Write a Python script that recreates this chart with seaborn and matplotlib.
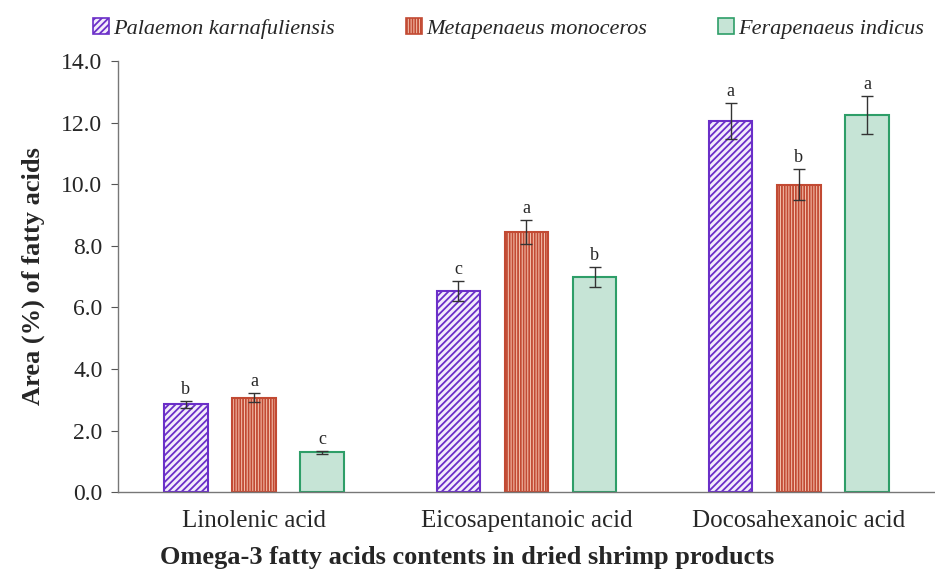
import numpy as np
import pandas as pd
import matplotlib
matplotlib.use("Agg")
import matplotlib.pyplot as plt
import seaborn as sns
from matplotlib.patches import Patch

acids = ["Linolenic acid", "Eicosapentanoic acid", "Docosahexanoic acid"]
species = ["Palaemon karnafuliensis", "Metapenaeus monoceros", "Ferapenaeus indicus"]

# mean area (%) per species, in acid order
palaemon = [2.85, 6.53, 12.05]
metapenaeus = [3.07, 8.45, 9.98]
ferapenaeus = [1.29, 6.99, 12.25]

palaemon_err = [0.12, 0.32, 0.59]
metapenaeus_err = [0.15, 0.40, 0.50]
ferapenaeus_err = [0.05, 0.32, 0.62]

palaemon_sig = ["b", "c", "a"]
metapenaeus_sig = ["a", "a", "b"]
ferapenaeus_sig = ["c", "b", "a"]

means = [palaemon, metapenaeus, ferapenaeus]
errs = [palaemon_err, metapenaeus_err, ferapenaeus_err]
sigs = [palaemon_sig, metapenaeus_sig, ferapenaeus_sig]

rows = []
for sp, vals in zip(species, means):
    for acid, v in zip(acids, vals):
        rows.append({"Acid": acid, "Species": sp, "Area": v})
df = pd.DataFrame(rows)

edge_colors = ["#6B2FC8", "#C24A33", "#2E9E68"]
face_colors = ["#F3ECFB", "#F6C7B4", "#C6E4D6"]
hatches = ["/////", "||||||", ""]

sns.set_style("white")
plt.rcParams["font.family"] = ["Liberation Serif", "DejaVu Serif"]
plt.rcParams["hatch.linewidth"] = 1.3

fig = plt.figure(figsize=(9.35, 5.81), dpi=100)
ax_left, ax_w = 0.126, 0.874
ax = fig.add_axes([ax_left, 0.153, ax_w, 0.742])

sns.barplot(data=df, x="Acid", y="Area", hue="Species", order=acids,
            hue_order=species, errorbar=None, width=0.75, gap=0.36,
            ax=ax, legend=False)

bar_groups = list(ax.containers)
for i, cont in enumerate(bar_groups):
    for j, bar in enumerate(cont):
        bar.set_facecolor(face_colors[i])
        bar.set_edgecolor(edge_colors[i])
        bar.set_linewidth(1.5)
        bar.set_hatch(hatches[i])
        cx = bar.get_x() + bar.get_width() / 2
        h = bar.get_height()
        ax.errorbar(cx, h, yerr=errs[i][j], color="#333333", lw=1.0,
                    capsize=4, capthick=1.0)
        ax.text(cx, h + errs[i][j] + 0.1, sigs[i][j], ha="center",
                va="bottom", fontsize=13)

ax.set_xlim(-0.5, 2.5)
ax.set_ylim(0, 14)
ax.set_yticks(np.arange(0, 14.1, 2))
ax.set_yticklabels([f"{t:.1f}" for t in np.arange(0, 14.1, 2)], fontsize=17)
ax.tick_params(axis="y", length=5, width=0.8, color="#555555", left=True, pad=6)
ax.tick_params(axis="x", length=0, labelsize=18, pad=13)
for s in ["top", "right"]:
    ax.spines[s].set_visible(False)
for s in ["left", "bottom"]:
    ax.spines[s].set_color("#777777")
    ax.spines[s].set_linewidth(1.0)

ax.set_ylabel("Area (%) of fatty acids", fontsize=19, fontweight="bold", labelpad=12)
# title sits centred on the figure, not on the axes
ax.set_xlabel("Omega-3 fatty acids contents in dried shrimp products",
              fontsize=19, fontweight="bold", labelpad=10,
              x=(0.5 - ax_left) / ax_w)

handles = [Patch(facecolor=face_colors[i], edgecolor=edge_colors[i],
                 hatch=hatches[i], lw=1.2) for i in range(3)]
fig.legend(handles, species, loc="upper center", bbox_to_anchor=(0.544, 1.003),
           ncol=3, frameon=False, handlelength=0.7, handleheight=0.7,
           handletextpad=0.2, columnspacing=3.2,
           prop={"family": "Liberation Serif", "style": "italic", "size": 16})

fig.savefig("out.png", dpi=100)
